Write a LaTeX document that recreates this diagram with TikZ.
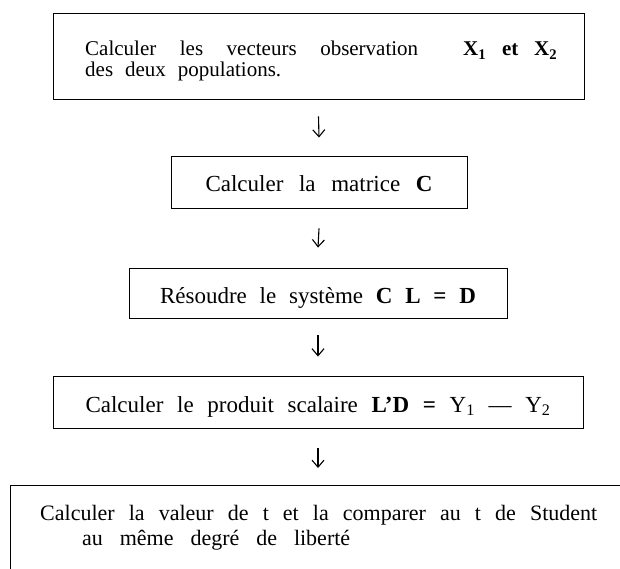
\documentclass[tikz,border=0pt]{standalone}
\usepackage{fontspec}
\setmainfont{Liberation Serif}
\usetikzlibrary{arrows.meta}
\begin{document}
\begin{tikzpicture}[x=1pt,y=-1pt,
  boxl/.style={draw, line width=0.9pt, inner sep=0pt},
  onel/.style={boxl, text height=20pt, text depth=0pt, font=\fontsize{23}{27}\selectfont},
  txt/.style={inner sep=0pt, anchor=base west},
  arr/.style={line width=1.1pt, -{Straight Barb[length=7pt,width=12pt,line width=1.1pt]}}]
\useasboundingbox (0,0) rectangle (620,569);
\clip (0,0) rectangle (620,569);
% box 1
\node[boxl, minimum width=531pt, minimum height=86pt] (b1) at (318.5,56) {};
\node[txt, font=\fontsize{21}{21}\selectfont] (t1) at (85,56)
  {\begin{tabular}[t]{@{}l@{}}\makebox[333pt][s]{Calculer les vecteurs observation}\hspace{45pt}\makebox[94pt][s]{\textbf{X\textsubscript{1} et X\textsubscript{2}}}\\
   \makebox[196pt][s]{des deux populations.}\end{tabular}};
% box 2
\node[onel, minimum width=296pt, minimum height=52pt] (b2) at (319,182)
  {\makebox[227pt][s]{Calculer la matrice \textbf{C}}};
% box 3
\node[onel, minimum width=378pt, minimum height=50pt] (b3) at (318,293)
  {\makebox[316pt][s]{Résoudre le système \textbf{C} \textbf{L} \textbf{=} \textbf{D}}};
% box 4
\node[onel, minimum width=530pt, minimum height=52pt] (b4) at (318,402)
  {\makebox[465pt][s]{Calculer le produit scalaire \textbf{L’D} \textbf{=} Y\textsubscript{1} — Y\textsubscript{2}}};
% box 5 (open to the right and bottom)
\node[boxl, minimum width=640pt, minimum height=120pt, anchor=north west] (b5) at (10,485) {};
\node[txt, font=\fontsize{22}{25}\selectfont] (t5) at (40,520)
  {\begin{tabular}[t]{@{}l@{}}\makebox[557pt][s]{Calculer la valeur de t et la comparer au t de Student}\\
   \hspace{42pt}\makebox[268pt][s]{au même degré de liberté}\end{tabular}};
% arrows
\draw[arr] ([yshift=-17pt]b1.south) -- ([yshift=18pt]b2.north);
\draw[arr] ([yshift=-20pt]b2.south) -- ([yshift=20pt]b3.north);
\draw[arr] ([yshift=-17pt]b3.south) -- ([yshift=19pt]b4.north);
\coordinate (e4) at (b4.south |- b5.north);
\draw[arr] ([yshift=-20pt]b4.south) -- ([yshift=17pt]e4);
\end{tikzpicture}
\end{document}
